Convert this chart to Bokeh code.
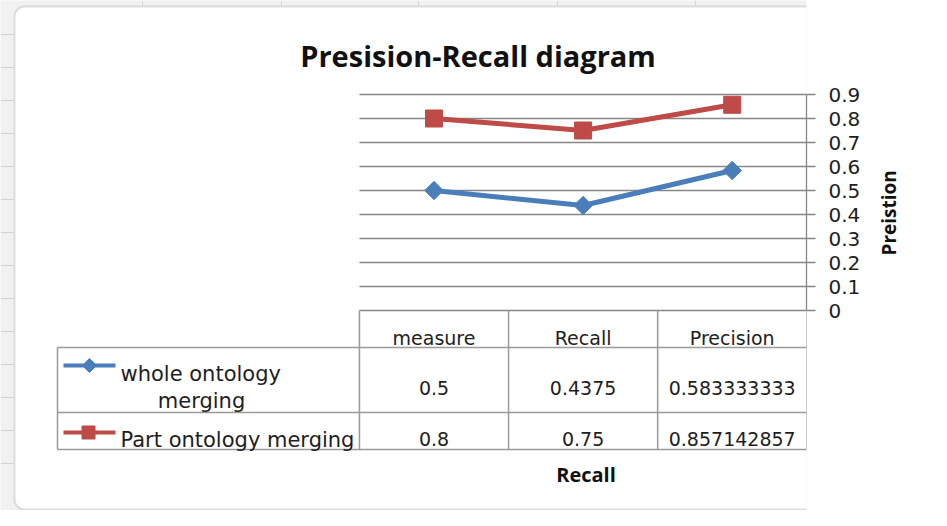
import math
from bokeh.plotting import figure
from bokeh.models import Range1d, LinearAxis, FixedTicker, NumeralTickFormatter, BoxAnnotation
from bokeh.core.properties import value
from bokeh.embed import file_html
from bokeh.resources import INLINE

# ---------------- data ----------------
categories = ["measure", "Recall", "Precision"]
whole_vals = [0.5, 0.4375, 0.583333333]
part_vals = [0.8, 0.75, 0.857142857]
series_names = ["whole ontology merging", "Part ontology merging"]
y_ticks = [0, 0.1, 0.2, 0.3, 0.4, 0.5, 0.6, 0.7, 0.8, 0.9]
title_text = "Presision-Recall diagram"
x_title = "Recall"
y_title = "Preistion"

# ---------------- style ----------------
BLUE = "#4A7EBB"
RED = "#BE4B48"
GRID = "#868686"
TABLE = "#9a9a9a"
TXT = "#1e1e1e"
SHEET = "#f1f1f1"
SANS = value("DejaVu Sans")
BOLD = value("Open Sans")

W, H = 931, 510
# layout (page pixels): category i centred at 441.5 + 149.1*i ; value v at 318 - 240*v
CX0, CW = 441.5, 149.1
VY0, VH = 318.0, 240.0
FL, FR, FT, FB = 8, 814, 8, 518   # frame edges in page pixels

x_rng = Range1d((FL - CX0) / CW, (FR - CX0) / CW)
y_rng = Range1d((VY0 - FB) / VH, (VY0 - FT) / VH)

p = figure(width=W, height=H, x_range=x_rng, y_range=y_rng,
           output_backend="svg", toolbar_location=None,
           x_axis_location=None, y_axis_location=None,
           min_border_left=0, min_border_right=W - (FR - FL),
           min_border_top=0, min_border_bottom=0)
p.extra_x_ranges = {"px": Range1d(FL, FR)}
p.extra_y_ranges = {"px": Range1d(FB, FT)}
p.xgrid.visible = False
p.ygrid.visible = False
p.outline_line_color = None
p.background_fill_color = SHEET
p.border_fill_color = "white"

# chart area (white rounded box)
box = BoxAnnotation(left=22, right=937, top=14, bottom=517,
                    x_range_name="px", y_range_name="px",
                    fill_color="white", fill_alpha=1.0,
                    line_color="#9c9c9c", line_width=2, border_radius=10,
                    level="underlay")
p.add_layout(box)

# spreadsheet lines in the margins
p.segment(x0=[150, 289, 426, 565, 703], x1=[150, 289, 426, 565, 703],
          y0=[8] * 5, y1=[13] * 5, x_range_name="px", y_range_name="px",
          line_color="#d2d2d2", line_width=1)
p.segment(x0=[8] * 14, x1=[21] * 14, y0=[42 + 33 * k for k in range(14)],
          y1=[42 + 33 * k for k in range(14)], x_range_name="px", y_range_name="px",
          line_color="#d2d2d2", line_width=1)

idx = list(range(len(categories)))

# horizontal gridlines across the category area
p.segment(x0=[-0.5] * len(y_ticks), x1=[len(categories) - 0.5] * len(y_ticks),
          y0=y_ticks, y1=y_ticks, line_color=GRID, line_width=1.3)

# right axis
yaxis = LinearAxis(ticker=FixedTicker(ticks=y_ticks),
                   formatter=NumeralTickFormatter(format="0.[0]"),
                   bounds=(0, 0.9))
yaxis.axis_line_color = GRID
yaxis.axis_line_width = 1.3
yaxis.major_tick_line_color = GRID
yaxis.major_tick_line_width = 1.3
yaxis.major_tick_out = 9
yaxis.major_tick_in = 0
yaxis.minor_tick_line_color = None
yaxis.major_label_standoff = 13
yaxis.major_label_text_font = "DejaVu Sans"
yaxis.major_label_text_font_size = "20px"
yaxis.major_label_text_color = TXT
yaxis.axis_label = y_title
yaxis.axis_label_text_font = "Open Sans"
yaxis.axis_label_text_font_style = "bold"
yaxis.axis_label_text_font_size = "19px"
yaxis.axis_label_text_color = "#111111"
yaxis.axis_label_standoff = 26
if "axis_label_orientation" in LinearAxis.properties():
    yaxis.axis_label_orientation = math.pi / 2
p.add_layout(yaxis, "right")

# data table grid
row_lines = [355, 420, 457]
p.segment(x0=[65] * 3, x1=[814] * 3, y0=row_lines, y1=row_lines,
          x_range_name="px", y_range_name="px", line_color=TABLE, line_width=1.5)
p.segment(x0=[65], x1=[65], y0=[355], y1=[457],
          x_range_name="px", y_range_name="px", line_color=TABLE, line_width=1.5)
bounds_x = [i - 0.5 for i in range(len(categories) + 1)]
p.segment(x0=bounds_x, x1=bounds_x, y0=[318] * len(bounds_x), y1=[457] * len(bounds_x),
          y_range_name="px", line_color=TABLE, line_width=1.5)

# data lines + markers
p.line(idx, whole_vals, line_color=BLUE, line_width=5)
p.scatter(idx, whole_vals, marker="square", angle=math.pi / 4, size=13,
          fill_color=BLUE, line_color=BLUE)
p.line(idx, part_vals, line_color=RED, line_width=5)
p.scatter(idx, part_vals, marker="square", size=17, fill_color=RED, line_color=RED)

# table header and values
p.text(x=idx, y=[345] * 3, text=categories, y_range_name="px",
       text_font=SANS, text_font_size="19px", text_color=TXT,
       text_align="center", text_baseline="alphabetic")
p.text(x=idx, y=[395] * 3, text=[str(v) for v in whole_vals], y_range_name="px",
       text_font=SANS, text_font_size="19px", text_color=TXT,
       text_align="center", text_baseline="alphabetic")
p.text(x=idx, y=[446] * 3, text=[str(v) for v in part_vals], y_range_name="px",
       text_font=SANS, text_font_size="19px", text_color=TXT,
       text_align="center", text_baseline="alphabetic")

# legend keys inside the table
key_y = [373, 440]
p.segment(x0=[71, 71], x1=[123, 123], y0=key_y, y1=key_y,
          x_range_name="px", y_range_name="px",
          line_color=[BLUE, RED], line_width=4)
p.scatter(x=[97], y=[key_y[0]], marker="square", angle=math.pi / 4, size=10,
          fill_color=BLUE, line_color=BLUE, x_range_name="px", y_range_name="px")
p.scatter(x=[96], y=[key_y[1]], marker="square", size=13, fill_color=RED, line_color=RED,
          x_range_name="px", y_range_name="px")
first_line, second_line = series_names[0].rsplit(" ", 1)
p.text(x=[128], y=[381], text=[first_line], x_range_name="px", y_range_name="px",
       text_font=SANS, text_font_size="21px", text_color=TXT,
       text_align="left", text_baseline="alphabetic")
p.text(x=[209], y=[408], text=[second_line], x_range_name="px", y_range_name="px",
       text_font=SANS, text_font_size="21px", text_color=TXT,
       text_align="center", text_baseline="alphabetic")
p.text(x=[128], y=[447], text=[series_names[1]], x_range_name="px", y_range_name="px",
       text_font=SANS, text_font_size="21px", text_color=TXT,
       text_align="left", text_baseline="alphabetic")

# titles
p.text(x=[485.5], y=[63], text=[title_text], x_range_name="px", y_range_name="px",
       text_font=BOLD, text_font_style="bold", text_font_size="29px", text_color="#111111",
       text_align="center", text_baseline="alphabetic")
p.text(x=[593.5], y=[482], text=[x_title], x_range_name="px", y_range_name="px",
       text_font=BOLD, text_font_style="bold", text_font_size="20px", text_color="#111111",
       text_align="center", text_baseline="alphabetic")

open("out.html", "w").write(file_html(p, INLINE))
